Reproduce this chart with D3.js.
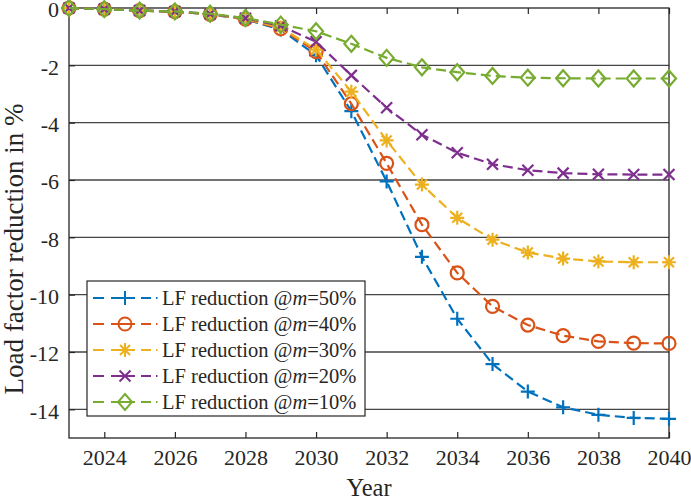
<!DOCTYPE html>
<html>
<head>
<meta charset="utf-8">
<script src="https://cdn.jsdelivr.net/npm/d3@7"></script>
<style>
  body { margin: 0; background: #fff; }
  text { font-family: "Liberation Serif", "Times New Roman", serif; fill: #262626; }
</style>
</head>
<body>
<svg id="chart" width="691" height="499"></svg>
<script>
// values, one per year 2023..2040
var years = d3.range(2023, 2041);
var m50 = [0, -0.04, -0.09, -0.13, -0.22, -0.4, -0.75, -1.65, -3.6, -6.05, -8.68, -10.84, -12.42, -13.38, -13.93, -14.19, -14.3, -14.33];
var m40 = [0, -0.04, -0.09, -0.13, -0.22, -0.39, -0.72, -1.52, -3.34, -5.42, -7.56, -9.24, -10.41, -11.06, -11.43, -11.63, -11.69, -11.7];
var m30 = [0, -0.04, -0.09, -0.13, -0.22, -0.38, -0.68, -1.45, -2.92, -4.62, -6.16, -7.32, -8.08, -8.53, -8.74, -8.84, -8.87, -8.87];
var m20 = [0, -0.04, -0.09, -0.12, -0.21, -0.36, -0.62, -1.18, -2.35, -3.48, -4.42, -5.05, -5.45, -5.66, -5.76, -5.8, -5.81, -5.81];
var m10 = [0, -0.04, -0.09, -0.12, -0.2, -0.35, -0.58, -0.81, -1.25, -1.74, -2.07, -2.24, -2.37, -2.43, -2.45, -2.46, -2.46, -2.46];
var labels = ["50%", "40%", "30%", "20%", "10%"];
var xTicks = [2024, 2026, 2028, 2030, 2032, 2034, 2036, 2038, 2040];
var yTicks = [0, -2, -4, -6, -8, -10, -12, -14];

var series = [
    {label: labels[0], values: m50, color: "#0072BD", marker: "plus"},
    {label: labels[1], values: m40, color: "#D95319", marker: "circle"},
    {label: labels[2], values: m30, color: "#EDB120", marker: "star"},
    {label: labels[3], values: m20, color: "#7E2F8E", marker: "cross"},
    {label: labels[4], values: m10, color: "#77AC30", marker: "diamond"}
];

var pLeft = 69, pRight = 669, pTop = 8, pBottom = 438;

var x = d3.scaleLinear().domain([2023, 2040]).range([pLeft, pRight]);
var y = d3.scaleLinear().domain([-15, 0]).range([pBottom, pTop]);

var svg = d3.select("#chart");

// horizontal grid
svg.append("g")
    .selectAll("line")
    .data(yTicks.filter(function (d) { return d !== 0; }))
    .enter().append("line")
    .attr("x1", pLeft).attr("x2", pRight)
    .attr("y1", function (d) { return y(d); })
    .attr("y2", function (d) { return y(d); })
    .style("stroke", "#454545")
    .style("stroke-width", 1.3);

// x ticks, inward on bottom and top
var xAxisB = svg.append("g")
    .attr("transform", "translate(0," + pBottom + ")")
    .call(d3.axisBottom(x).tickValues(xTicks).tickFormat(d3.format("d")).tickSizeInner(-6).tickSizeOuter(0).tickPadding(14));
var xAxisT = svg.append("g")
    .attr("transform", "translate(0," + pTop + ")")
    .call(d3.axisTop(x).tickValues(xTicks).tickFormat("").tickSizeInner(-6).tickSizeOuter(0));
var yAxisL = svg.append("g")
    .attr("transform", "translate(" + pLeft + ",0)")
    .call(d3.axisLeft(y).tickValues(yTicks).tickFormat(function (d) { return d === 0 ? "0" : "-" + Math.abs(d); }).tickSizeInner(-6).tickSizeOuter(0).tickPadding(10));

[xAxisB, xAxisT, yAxisL].forEach(function (a) {
    a.select(".domain").remove();
    a.selectAll(".tick line").style("stroke", "#262626").style("stroke-width", 1.2);
    a.selectAll("text").style("font-size", "22px").style("fill", "#262626")
        .style("font-family", "'Liberation Serif', serif");
});
yAxisL.selectAll(".tick text").attr("dy", "0.4em");
xAxisB.selectAll(".tick text").attr("dy", "0.65em").attr("y", 13);

// box
svg.append("rect")
    .attr("x", pLeft).attr("y", pTop)
    .attr("width", pRight - pLeft).attr("height", pBottom - pTop)
    .style("fill", "none")
    .style("stroke", "#262626")
    .style("stroke-width", 1.3);

// axis titles
svg.append("text")
    .attr("x", 369)
    .attr("y", 496)
    .attr("text-anchor", "middle")
    .style("font-size", "24.5px")
    .text("Year");

svg.append("text")
    .attr("transform", "translate(23,249) rotate(-90)")
    .attr("text-anchor", "middle")
    .style("font-size", "27px")
    .text("Load factor reduction in %");

function markerPath(type) {
    if (type === "plus") return "M-7,0H7M0,-7V7";
    if (type === "circle") return "M-6.5,0A6.5,6.5 0 1,0 6.5,0A6.5,6.5 0 1,0 -6.5,0";
    if (type === "star") return "M-7,0H7M0,-7V7M-5,-5L5,5M-5,5L5,-5";
    if (type === "cross") return "M-5.5,-5.5L5.5,5.5M-5.5,5.5L5.5,-5.5";
    return "M0,-8L7,0L0,8L-7,0Z";
}

var line = d3.line()
    .x(function (d) { return x(d.year); })
    .y(function (d) { return y(d.value); });

series.forEach(function (s) {
    var pts = years.map(function (yr, i) { return {year: yr, value: s.values[i]}; });
    var g = svg.append("g");
    g.append("path")
        .datum(pts)
        .attr("d", line)
        .style("fill", "none")
        .style("stroke", s.color)
        .style("stroke-width", 2.2)
        .style("stroke-dasharray", "10,5");
    g.selectAll(".mk")
        .data(pts)
        .enter().append("path")
        .attr("class", "mk")
        .attr("transform", function (d) { return "translate(" + x(d.year) + "," + y(d.value) + ")"; })
        .attr("d", markerPath(s.marker))
        .style("fill", "none")
        .style("stroke", s.color)
        .style("stroke-width", 2.2);
});

// legend
var legX = 87, legY = 281, legW = 278, legH = 135, rowH = 26;
svg.append("rect")
    .attr("x", legX).attr("y", legY)
    .attr("width", legW).attr("height", legH)
    .style("fill", "#fff")
    .style("stroke", "#262626")
    .style("stroke-width", 1.2);

var legend = svg.selectAll(".legend")
    .data(series)
    .enter().append("g")
    .attr("class", "legend")
    .attr("transform", function (d, i) { return "translate(" + legX + "," + (legY + 17 + i * rowH) + ")"; });

legend.append("line")
    .attr("x1", 6).attr("x2", 72)
    .attr("y1", 0).attr("y2", 0)
    .style("stroke", function (d) { return d.color; })
    .style("stroke-width", 2)
    .style("stroke-dasharray", "11,7,24,6,10,5,1.5,20");
legend.append("path")
    .attr("transform", "translate(38,0)")
    .attr("d", function (d) { return markerPath(d.marker); })
    .style("fill", "none")
    .style("stroke", function (d) { return d.color; })
    .style("stroke-width", 2);

var lt = legend.append("text")
    .attr("x", 75)
    .attr("y", 7)
    .style("font-size", "20.5px");
lt.append("tspan").text("LF reduction @");
lt.append("tspan").style("font-style", "italic").text("m");
lt.append("tspan").text(function (d) { return "=" + d.label; });
</script>
</body>
</html>
